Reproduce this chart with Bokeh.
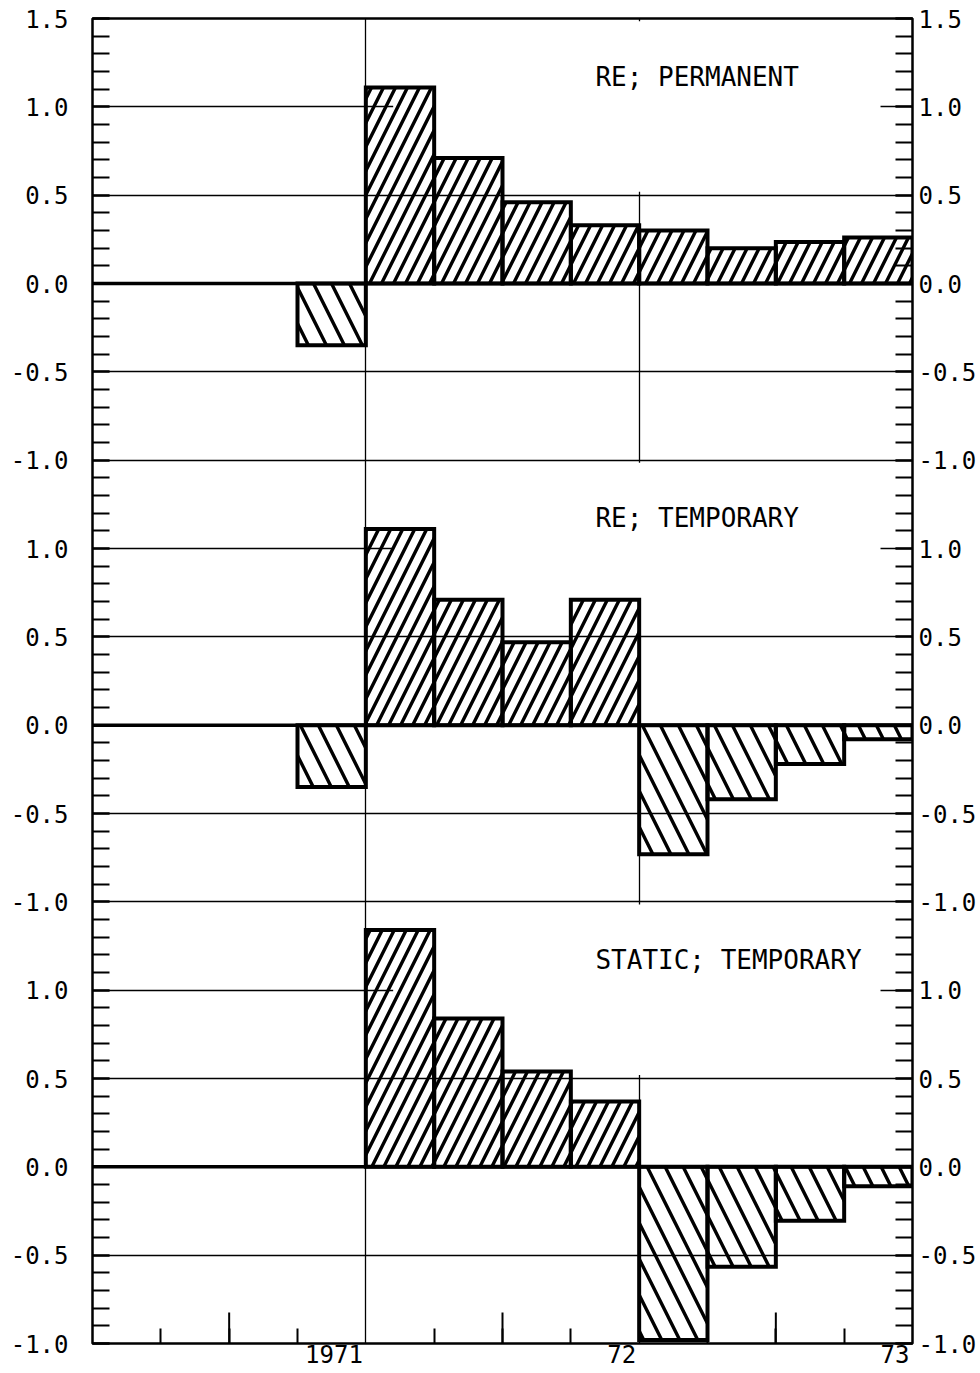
from bokeh.plotting import figure
from bokeh.models import FixedTicker, LinearAxis, Range1d, ColumnDataSource, CustomJSTickFormatter
from bokeh.core.properties import value
from bokeh.embed import file_html
from bokeh.resources import INLINE

# ---------------- data ----------------
quarters = ["1970Q1", "1970Q2", "1970Q3", "1970Q4",
            "1971Q1", "1971Q2", "1971Q3", "1971Q4",
            "1972Q1", "1972Q2", "1972Q3", "1972Q4"]
quarter_start = [1970.0, 1970.25, 1970.5, 1970.75,
                 1971.0, 1971.25, 1971.5, 1971.75,
                 1972.0, 1972.25, 1972.5, 1972.75]
re_permanent = [0, 0, 0, -0.35, 1.11, 0.71, 0.46, 0.33, 0.30, 0.20, 0.235, 0.26]
re_temporary = [0, 0, 0, -0.35, 1.11, 0.71, 0.47, 0.71, -0.73, -0.42, -0.22, -0.08]
static_temporary = [0, 0, 0, 0, 1.34, 0.84, 0.54, 0.37, -0.98, -0.565, -0.305, -0.11]
panel_series = [re_permanent, re_temporary, static_temporary]
panel_titles = ["RE; PERMANENT", "RE; TEMPORARY", "STATIC; TEMPORARY"]
year_ticks = [1971, 1972, 1973]
year_labels = ["1971", "72", "73"]
mid_year_ticks = [1970.5, 1971.5, 1972.5]

FONT = "DejaVu Sans Mono"
FONT_PX = 24
TITLE_PX = 26
XLAB_PX = 24
Y_LOW, Y_HIGH = -1.0, 1.5
offsets = [0.0, -2.5, -5.0]
X0, X1 = 1970.0, 1973.0
FRAME_W, FRAME_H = 820, 1325

p = figure(frame_width=FRAME_W, frame_height=FRAME_H, output_backend="svg", toolbar_location=None,
           x_range=Range1d(X0, X1),
           y_range=Range1d(Y_LOW + offsets[-1], Y_HIGH),
           min_border_left=92, min_border_right=64, min_border_top=18, min_border_bottom=30,
           y_axis_location="left")
p.outline_line_color = "black"
p.outline_line_width = 2.5

# ---- y ticks (shared by left / right axis) ----
major_y = []
for k, off in enumerate(offsets):
    vals = [-1.0, -0.5, 0.0, 0.5, 1.0] + ([1.5] if k == 0 else [])
    major_y += [round(v + off, 2) for v in vals]
minor_y = [round(-6.0 + 0.1 * i, 2) for i in range(76)]
yticker = FixedTicker(ticks=major_y, minor_ticks=minor_y)
yfmt = CustomJSTickFormatter(code="""
    const k = tick >= -1.0001 ? 0 : (tick >= -3.5001 ? 1 : 2);
    let lab = Math.round((tick + 2.5 * k) * 10) / 10;
    if (Math.abs(lab) < 1e-9) lab = 0;
    return lab.toFixed(1);
""")

def style_y(ax, standoff):
    ax.ticker = yticker
    ax.formatter = yfmt
    ax.axis_line_color = None
    ax.major_tick_in = 17
    ax.major_tick_out = 0
    ax.minor_tick_in = 17
    ax.minor_tick_out = 0
    ax.major_tick_line_width = 2
    ax.minor_tick_line_width = 2
    ax.major_label_text_font = FONT
    ax.major_label_text_font_size = f"{FONT_PX}px"
    ax.major_label_text_color = "black"
    ax.major_label_standoff = standoff

style_y(p.yaxis[0], 24)
right_axis = LinearAxis()
style_y(right_axis, 6)
p.add_layout(right_axis, "right")

# ---- x axis: labels right-aligned (a little left of) the year ticks ----
px_per_year = FRAME_W / (X1 - X0)
char_w = 0.602 * XLAB_PX
label_pos = [t - (len(s) * char_w / 2 + 3) / px_per_year for t, s in zip(year_ticks, year_labels)]
xax = p.xaxis[0]
xax.ticker = FixedTicker(ticks=label_pos,
                         minor_ticks=[1970.25, 1970.5, 1970.75, 1971.25, 1971.5, 1971.75,
                                      1972.25, 1972.5, 1972.75])
xax.formatter = CustomJSTickFormatter(args=dict(pos=label_pos, labs=year_labels), code="""
    let best = 0, bd = 1e9;
    for (let i = 0; i < pos.length; i++) {
        const d = Math.abs(pos[i] - tick);
        if (d < bd) { bd = d; best = i; }
    }
    return labs[best];
""")
xax.axis_line_color = None
xax.major_tick_in = 0
xax.major_tick_out = 0
xax.minor_tick_in = 15
xax.minor_tick_out = 0
xax.minor_tick_line_width = 2
xax.major_label_text_font = FONT
xax.major_label_text_font_size = f"{XLAB_PX}px"
xax.major_label_text_color = "black"
xax.major_label_standoff = 1

# ---- grids ----
p.xgrid.ticker = FixedTicker(ticks=[1971, 1972])
p.xgrid.grid_line_color = "black"
p.xgrid.grid_line_width = 1.3
p.ygrid.ticker = FixedTicker(ticks=major_y)
p.ygrid.grid_line_color = "black"
p.ygrid.grid_line_width = 1.3

# blank label area in each panel
p.quad(left=[1971.10] * 3, right=[1972.883] * 3,
       bottom=[0.52 + o for o in offsets], top=[1.485 + o for o in offsets],
       fill_color="white", line_color=None)

# longer mid-year ticks at the bottom
p.segment(x0=mid_year_ticks, x1=mid_year_ticks,
          y0=[Y_LOW + offsets[-1]] * 3, y1=[Y_LOW + offsets[-1] + 0.175] * 3,
          line_color="black", line_width=2)

# ---- bars ----
for series, off, title in zip(panel_series, offsets, panel_titles):
    left = quarter_start
    right = [q + 0.25 for q in quarter_start]
    pos = [i for i, v in enumerate(series) if v > 0]
    neg = [i for i, v in enumerate(series) if v < 0]
    p.line(x=[X0, X1], y=[off, off], line_color="black", line_width=3.5)
    if pos:
        src = ColumnDataSource(dict(left=[left[i] for i in pos], right=[right[i] for i in pos],
                                    bottom=[off] * len(pos), top=[series[i] + off for i in pos]))
        p.quad(left="left", right="right", bottom="bottom", top="top", source=src,
               fill_alpha=0, line_color="black", line_width=4, line_join="miter",
               hatch_pattern="right_diagonal_line", hatch_color="black",
               hatch_weight=3.4, hatch_scale=24)
    if neg:
        src = ColumnDataSource(dict(left=[left[i] for i in neg], right=[right[i] for i in neg],
                                    bottom=[series[i] + off for i in neg], top=[off] * len(neg)))
        p.quad(left="left", right="right", bottom="bottom", top="top", source=src,
               fill_alpha=0, line_color="black", line_width=4, line_join="miter",
               hatch_pattern="left_diagonal_line", hatch_color="black",
               hatch_weight=3.4, hatch_scale=36)
    p.text(x=[1971.84], y=[1.17 + off], text=[title], text_align="left",
           text_baseline="middle", text_font=value(FONT), text_font_size=f"{TITLE_PX}px",
           text_color="black")

open("out.html", "w").write(file_html(p, INLINE))
